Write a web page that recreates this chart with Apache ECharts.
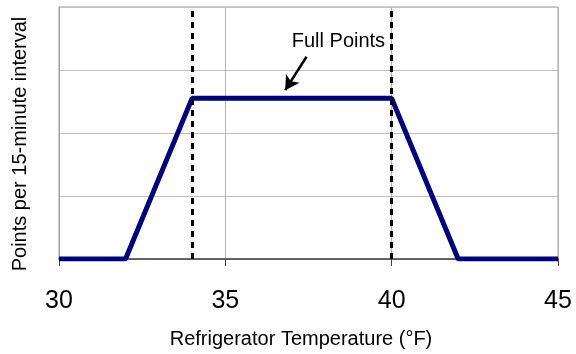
<!DOCTYPE html>
<html><head><meta charset="utf-8">
<script src="https://cdn.jsdelivr.net/npm/echarts@6/dist/echarts.min.js"></script>
<style>html,body{margin:0;padding:0;background:#fff}#c{width:576px;height:354px}</style>
</head><body><div id="c"></div>
<script>
const temps = [30, 32, 34, 40, 42, 45];
const points = [0, 0, 2.55, 2.55, 0, 0];
const dashedAt = [34, 40];
const xTicks = [30, 35, 40, 45];
const annotationText = 'Full Points';
const annotationPos = [38.4, 3.45];
const arrowFrom = [37.44, 3.21];
const arrowTo = [36.8, 2.68];

const chart = echarts.init(document.getElementById('c'));
const font = 'Arial, "Liberation Sans", sans-serif';
chart.setOption({
  animation: false,
  grid: {left: 59, right: 18, top: 7, bottom: 95, show: true, borderColor: '#a0a0a0', borderWidth: 1},
  xAxis: {
    type: 'value', min: 30, max: 45, interval: 5,
    name: 'Refrigerator Temperature (°F)', nameLocation: 'middle', nameGap: 70,
    nameTextStyle: {fontFamily: font, fontSize: 20, color: '#000', padding: [0, 15, 0, 0]},
    axisLine: {lineStyle: {color: '#404040', width: 1.5}},
    axisTick: {show: true, length: 7, lineStyle: {color: '#404040'}},
    axisLabel: {fontFamily: font, fontSize: 25, color: '#000', margin: 30,
      formatter: v => xTicks.includes(v) ? String(v) : ''},
    splitLine: {show: true, lineStyle: {color: '#b4b4b4', width: 1}}
  },
  yAxis: {
    type: 'value', min: 0, max: 4, interval: 1,
    name: 'Points per 15-minute interval', nameLocation: 'middle', nameGap: 29,
    nameTextStyle: {fontFamily: font, fontSize: 20, color: '#000', padding: [0, 22, 0, 0]},
    axisLine: {show: true, lineStyle: {color: '#a0a0a0'}},
    axisTick: {show: false}, axisLabel: {show: false},
    splitLine: {show: true, lineStyle: {color: '#c0c0c0', width: 1}}
  },
  series: [{
    type: 'line',
    data: temps.map((t, i) => [t, points[i]]),
    symbol: 'none',
    lineStyle: {color: '#000080', width: 5},
    z: 3,
    markLine: {
      silent: true, symbol: ['none', 'none'], label: {show: false},
      lineStyle: {color: '#000', type: [6, 5], width: 3},
      data: dashedAt.map(x => ({xAxis: x}))
    }
  }, {
    type: 'line', data: [], symbol: 'none',
    markLine: {
      silent: true, symbol: ['none', 'arrow'], symbolSize: [12, 14], label: {show: false},
      lineStyle: {color: '#000', type: 'solid', width: 2.5},
      data: [[{coord: arrowFrom}, {coord: arrowTo}]]
    },
    markPoint: {
      symbol: 'circle', symbolSize: 0,
      label: {show: true, formatter: annotationText, fontFamily: font, fontSize: 20, color: '#000', position: 'inside'},
      data: [{coord: annotationPos}]
    }
  }]
});
</script></body></html>
